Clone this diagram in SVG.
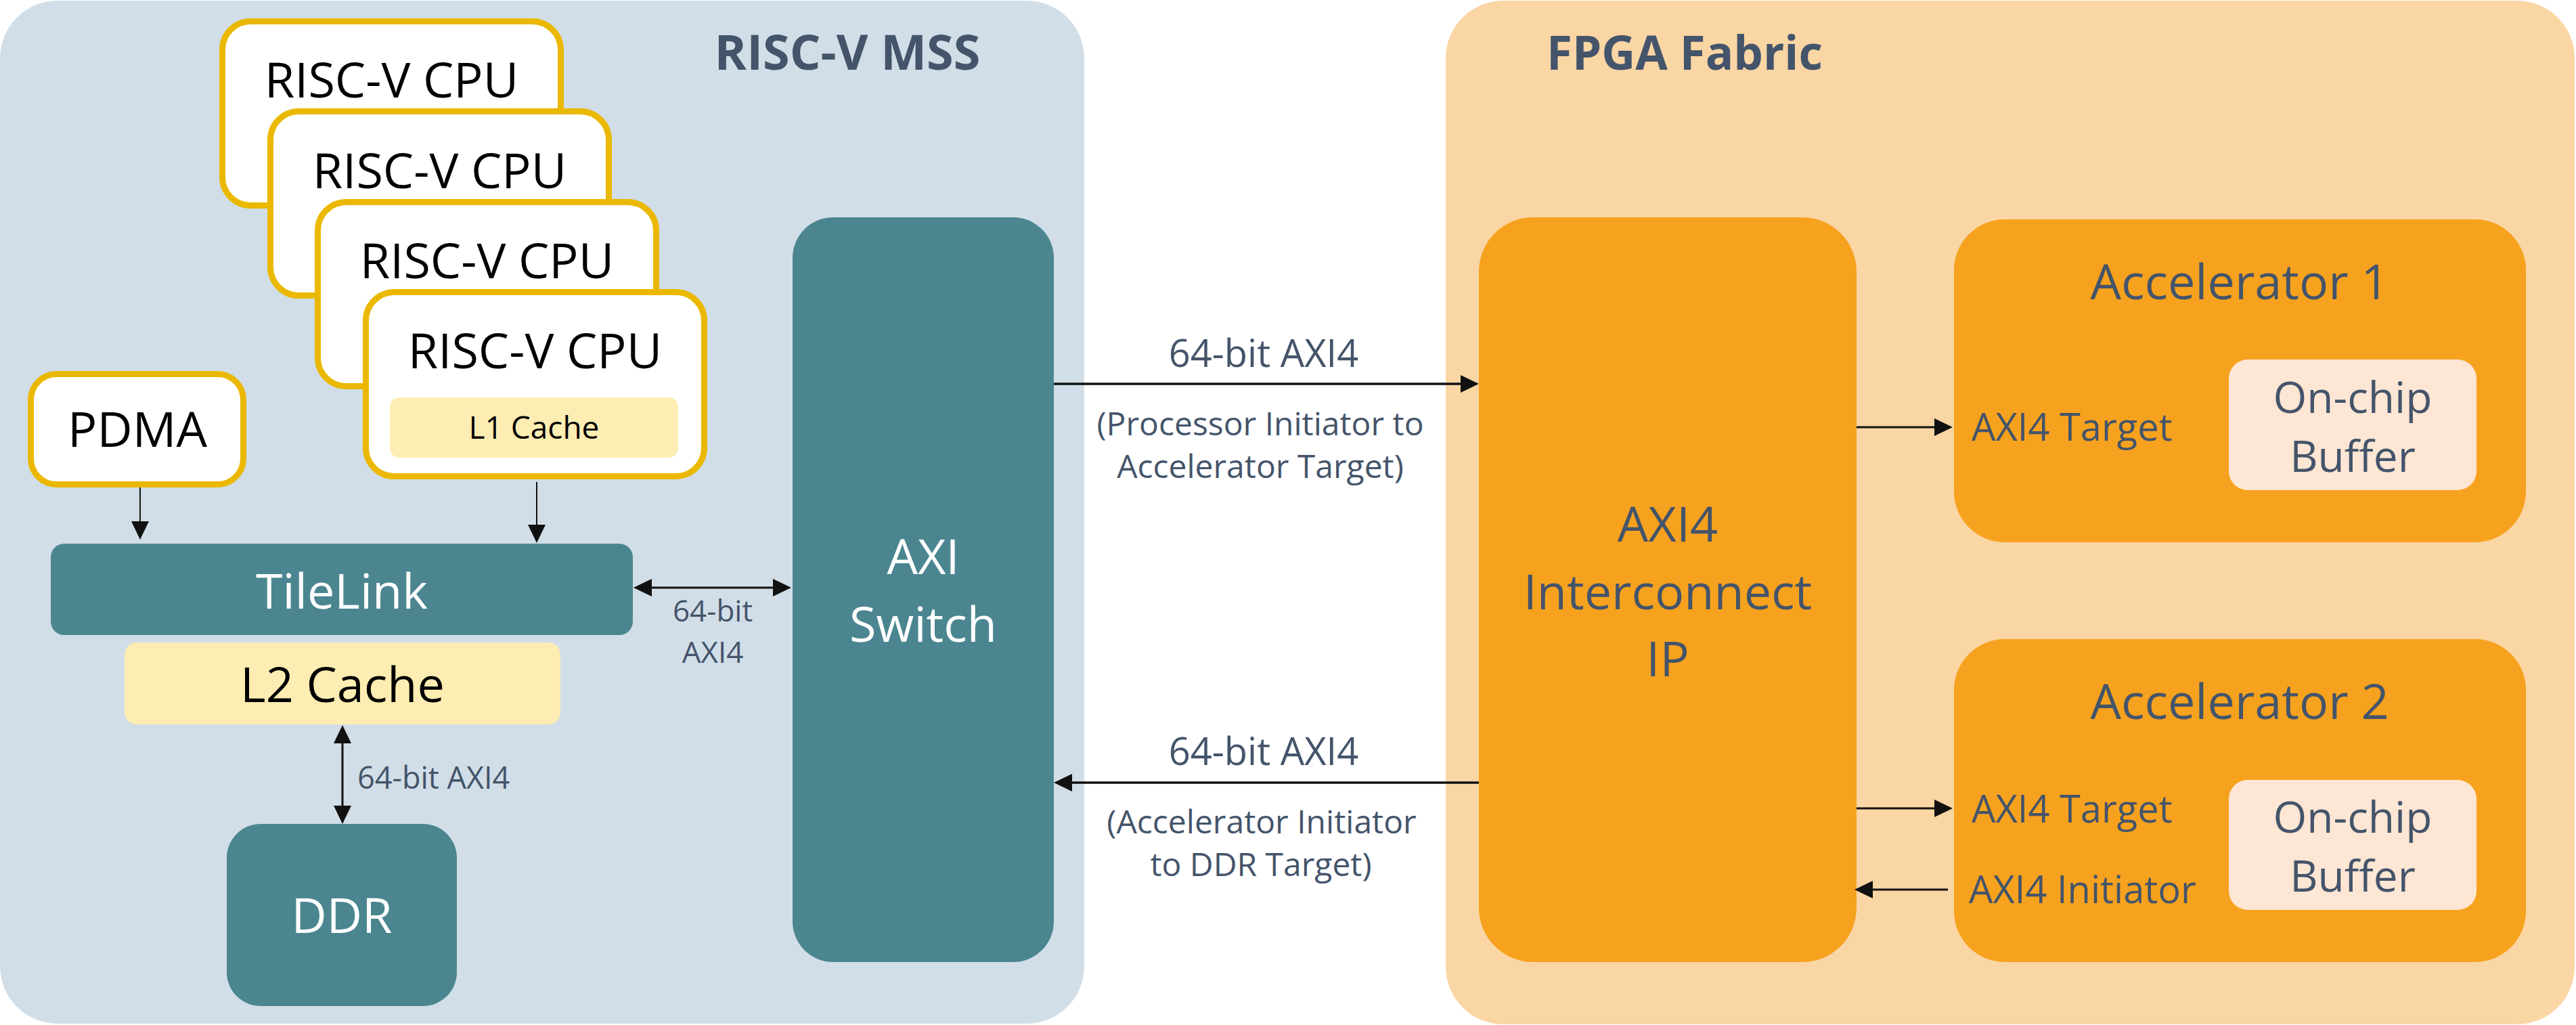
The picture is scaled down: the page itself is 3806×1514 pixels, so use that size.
<svg xmlns="http://www.w3.org/2000/svg" width="3806" height="1514" viewBox="0 0 3806 1514">
<style>
text{font-family:"Open Sans","Noto Sans","Liberation Sans",sans-serif;}
.title{font-size:72px;font-weight:bold;fill:#44546A;text-anchor:middle;}
.big{font-size:72px;text-anchor:middle;}
.blk{fill:#000000;}
.wht{fill:#FFFFFF;}
.dk{fill:#44546A;}
.cpu{fill:#FFFFFF;stroke:#EBB800;stroke-width:9;}
.teal{fill:#4B8690;}
.yel{fill:#FEEDB2;}
.org{fill:#F7A21E;}
.peach{fill:#FDE6D4;}
.lbl{font-size:56px;fill:#44546A;text-anchor:middle;}
.sub{font-size:48px;fill:#44546A;text-anchor:middle;}
.port{font-size:56px;fill:#44546A;}
.buf{font-size:64px;fill:#44546A;text-anchor:middle;}
.conn{stroke:#111111;fill:none;}
</style>
<defs>
<marker id="ah" markerUnits="userSpaceOnUse" markerWidth="27" markerHeight="26" refX="17" refY="13" orient="auto-start-reverse" viewBox="0 0 27 26">
<path d="M0,0 L27,13 L0,26 z" fill="#111111"/>
</marker>
</defs>

<g id="mss-panel">
<rect x="0" y="1" width="1602" height="1511" rx="85" ry="85" fill="#D1DEE7"/>
<text class="title" x="1252" y="103">RISC-V MSS</text>
</g>

<g id="fpga-panel">
<rect x="2136" y="1" width="1668" height="1512" rx="85" ry="85" fill="#FAD6A5"/>
<text class="title" x="2489" y="103" style="font-size:69px">FPGA Fabric</text>
</g>

<g id="cpu1">
<rect class="cpu" x="328.5" y="31.5" width="500" height="272" rx="42"/>
<text class="big blk" x="578.5" y="144">RISC-V CPU</text>
</g>
<g id="cpu2">
<rect class="cpu" x="399.5" y="164.5" width="500" height="272" rx="42"/>
<text class="big blk" x="649.5" y="278">RISC-V CPU</text>
</g>
<g id="cpu3">
<rect class="cpu" x="469.5" y="298.5" width="500" height="272" rx="42"/>
<text class="big blk" x="719.5" y="411">RISC-V CPU</text>
</g>
<g id="cpu4">
<rect class="cpu" x="540.5" y="431.5" width="500" height="272" rx="42"/>
<text class="big blk" x="790.5" y="544">RISC-V CPU</text>
<rect class="yel" x="576" y="587" width="426" height="89" rx="14"/>
<text class="blk" x="789" y="648" style="font-size:46px;text-anchor:middle">L1 Cache</text>
</g>

<g id="pdma">
<rect class="cpu" x="45.5" y="552.5" width="314" height="163" rx="38"/>
<text class="big blk" x="203" y="660">PDMA</text>
</g>

<g id="tilelink">
<rect class="teal" x="75" y="803" width="860" height="135" rx="20"/>
<text class="big wht" x="505" y="899">TileLink</text>
</g>

<g id="l2cache">
<rect class="yel" x="184" y="949" width="644" height="121" rx="18"/>
<text class="big blk" x="506" y="1037">L2 Cache</text>
</g>

<g id="ddr">
<rect class="teal" x="335" y="1217" width="340" height="269" rx="50"/>
<text class="big wht" x="505" y="1378">DDR</text>
</g>

<g id="axi-switch">
<rect class="teal" x="1171" y="321" width="386" height="1100" rx="60"/>
<text class="big wht" x="1364" y="848">AXI</text>
<text class="big wht" x="1364" y="948">Switch</text>
</g>

<g id="interconnect">
<rect class="org" x="2185" y="321" width="558" height="1100" rx="80"/>
<text class="big dk" x="2464" y="800">AXI4</text>
<text class="big dk" x="2464" y="900">Interconnect</text>
<text class="big dk" x="2464" y="999">IP</text>
</g>

<g id="accelerator1">
<rect class="org" x="2887" y="324" width="845" height="477" rx="75"/>
<text class="big dk" x="3309" y="442">Accelerator 1</text>
<text class="port" x="2913" y="651">AXI4 Target</text>
<rect class="peach" x="3293" y="531" width="366" height="193" rx="28"/>
<text class="buf" x="3476" y="610">On-chip</text>
<text class="buf" x="3476" y="697">Buffer</text>
</g>

<g id="accelerator2">
<rect class="org" x="2887" y="944" width="845" height="477" rx="75"/>
<text class="big dk" x="3309" y="1062">Accelerator 2</text>
<text class="port" x="2913" y="1215">AXI4 Target</text>
<text class="port" x="2909" y="1334">AXI4 Initiator</text>
<rect class="peach" x="3293" y="1152" width="366" height="192" rx="28"/>
<text class="buf" x="3476" y="1230">On-chip</text>
<text class="buf" x="3476" y="1317">Buffer</text>
</g>

<g id="connectors">
<line class="conn" x1="207" y1="720" x2="207" y2="787" stroke-width="2" marker-end="url(#ah)"/>
<line class="conn" x1="793" y1="712" x2="793" y2="792" stroke-width="2" marker-end="url(#ah)"/>
<line class="conn" x1="946" y1="868" x2="1159" y2="868" stroke-width="3" marker-start="url(#ah)" marker-end="url(#ah)"/>
<text class="dk" x="1053" y="918" style="font-size:44px;text-anchor:middle">64-bit</text>
<text class="dk" x="1053" y="979" style="font-size:44px;text-anchor:middle">AXI4</text>
<line class="conn" x1="506" y1="1081" x2="506" y2="1207" stroke-width="3" marker-start="url(#ah)" marker-end="url(#ah)"/>
<text class="dk" x="528" y="1165" style="font-size:45px">64-bit AXI4</text>
<line class="conn" x1="1557" y1="567" x2="2175" y2="567" stroke-width="3.5" marker-end="url(#ah)"/>
<text class="lbl" x="1867" y="542">64-bit AXI4</text>
<text class="sub" x="1862" y="643">(Processor Initiator to</text>
<text class="sub" x="1862" y="706">Accelerator Target)</text>
<line class="conn" x1="2185" y1="1156" x2="1567" y2="1156" stroke-width="3.5" marker-end="url(#ah)"/>
<text class="lbl" x="1867" y="1130">64-bit AXI4</text>
<text class="sub" x="1864" y="1231">(Accelerator Initiator</text>
<text class="sub" x="1863" y="1294">to DDR Target)</text>
<line class="conn" x1="2743" y1="631" x2="2875" y2="631" stroke-width="3" marker-end="url(#ah)"/>
<line class="conn" x1="2743" y1="1194" x2="2875" y2="1194" stroke-width="3" marker-end="url(#ah)"/>
<line class="conn" x1="2878" y1="1314" x2="2750" y2="1314" stroke-width="3" marker-end="url(#ah)"/>
</g>
</svg>
